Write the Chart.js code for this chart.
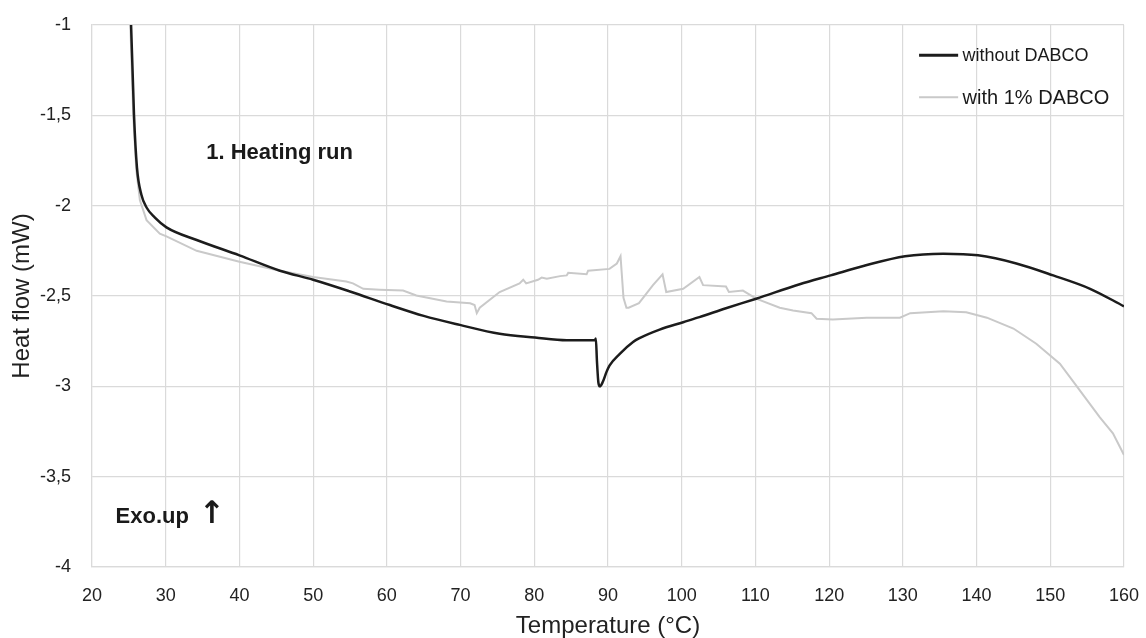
<!DOCTYPE html>
<html>
<head>
<meta charset="utf-8">
<script src="https://cdn.jsdelivr.net/npm/chart.js@4/dist/chart.umd.min.js"></script>
<style>
  html, body { margin: 0; padding: 0; background: #fff; }
  #wrap { width: 1146px; height: 638px; position: relative; }
</style>
</head>
<body>
<div id="wrap"><canvas id="dsc"></canvas></div>
<script>
// DSC heating run, heat flow vs temperature
const tempTicks = [20, 30, 40, 50, 60, 70, 80, 90, 100, 110, 120, 130, 140, 150, 160];
const flowTicks = [-4, -3.5, -3, -2.5, -2, -1.5, -1];

const plainTemp = [25.15, 25.3, 25.7, 26.1, 26.7, 27.4, 28.5, 30.1, 34.2, 40, 45.5, 50, 55, 60.4, 65, 69.9,
    75.3, 80.1, 84.4, 88.2, 88.35, 88.5, 88.7, 88.9, 89.3, 89.8, 90.2, 91.6, 93.4, 94.2, 97, 100.2,
    102.4, 106, 110.1, 116, 120.2, 125, 130.3, 135.5, 140.2, 145.4, 150.4, 155.4, 160];
const plainFlow = [-0.9, -1.0, -1.5, -1.79, -1.94, -2.01, -2.065, -2.12, -2.19, -2.275, -2.36, -2.41, -2.475, -2.55, -2.61, -2.66,
    -2.709, -2.73, -2.745, -2.745, -2.735, -2.86, -2.98, -3.0, -2.975, -2.92, -2.885, -2.82, -2.755, -2.735, -2.686, -2.645,
    -2.617, -2.568, -2.515, -2.435, -2.386, -2.33, -2.28, -2.266, -2.275, -2.32, -2.386, -2.46, -2.557];

const dabcoTemp = [25.1, 25.2, 25.6, 26.0, 26.5, 27.4, 29.2, 30.1, 34.2, 40, 45.5, 50, 54.5, 55.4, 56.8, 59, 62.2, 64,
    68.1, 71.3, 71.9, 72.2, 72.6, 75.3, 78, 78.5, 78.9, 80.5, 81, 81.7, 83.5, 84.4, 84.6, 87.1, 87.3, 90.2, 91.2,
    91.7, 92.1, 92.5, 92.8, 94.2, 96.1, 97.4, 97.9, 100.2, 102.4, 102.9, 106, 106.4, 108.3, 110.1, 113.3, 115.1,
    117.6, 118.3, 120.5, 125.1, 129.6, 131, 135.5, 138.6, 141.4, 145, 148.1, 151.3, 153.6, 156.7, 158.5, 160];
const dabcoFlow = [-0.9, -1.0, -1.5, -1.8, -1.97, -2.08, -2.155, -2.17, -2.25, -2.31, -2.36, -2.395, -2.42, -2.43, -2.46, -2.465, -2.47, -2.497,
    -2.53, -2.54, -2.55, -2.595, -2.565, -2.478, -2.43, -2.41, -2.43, -2.41, -2.398, -2.405, -2.39, -2.386, -2.372, -2.38, -2.36, -2.35, -2.32,
    -2.28, -2.51, -2.565, -2.565, -2.54, -2.44, -2.38, -2.478, -2.46, -2.395, -2.44, -2.447, -2.478, -2.47, -2.515, -2.565, -2.58,
    -2.595, -2.626, -2.63, -2.62, -2.62, -2.595, -2.584, -2.59, -2.62, -2.68, -2.764, -2.875, -3.0, -3.17, -3.26, -3.38];

const seriesNames = ['without DABCO', 'with 1% DABCO'];
const seriesColors = ['#1c1c1c', '#c9c9c9'];

const toPoints = (xs, ys) => xs.map((x, i) => ({ x, y: ys[i] }));
const commaNum = (v) => String(Number(v.toFixed(1))).replace('.', ',');

// legend + text notes, placed in data coordinates
const notes = {
    id: 'notes',
    afterDraw(chart) {
        const { ctx, scales: { x, y } } = chart;
        ctx.save();
        ctx.fillStyle = '#1a1a1a';
        ctx.textBaseline = 'middle';
        ctx.textAlign = 'left';

        ctx.font = 'bold 22px "Liberation Sans", Arial, sans-serif';
        ctx.fillText('1. Heating run', x.getPixelForValue(35.5), y.getPixelForValue(-1.709));
        ctx.fillText('Exo.up', x.getPixelForValue(23.2), y.getPixelForValue(-3.724));
        ctx.font = 'bold 31px "DejaVu Sans", sans-serif';
        ctx.fillText('\u2191', x.getPixelForValue(34.5), y.getPixelForValue(-3.712));

        const rows = [
            { y: -1.168, size: 18, width: 3 },
            { y: -1.40, size: 20, width: 2 },
        ];
        rows.forEach((r, i) => {
            const py = y.getPixelForValue(r.y);
            ctx.strokeStyle = seriesColors[i];
            ctx.lineWidth = r.width;
            ctx.beginPath();
            ctx.moveTo(x.getPixelForValue(132.2), py);
            ctx.lineTo(x.getPixelForValue(137.5), py);
            ctx.stroke();
            ctx.fillStyle = '#1a1a1a';
            ctx.font = r.size + 'px "Liberation Sans", Arial, sans-serif';
            ctx.fillText(seriesNames[i], x.getPixelForValue(138.1), py + 1);
        });
        ctx.restore();
    },
};

const gridColor = '#dadada';
const tickFont = { family: '"Liberation Sans", Arial, sans-serif', size: 18 };
const titleFont = { family: '"Liberation Sans", Arial, sans-serif', size: 24, lineHeight: 1 };

new Chart(document.getElementById('dsc'), {
    type: 'line',
    data: {
        datasets: [
            {
                label: seriesNames[0],
                data: toPoints(plainTemp, plainFlow),
                borderColor: seriesColors[0],
                borderWidth: 2.5,
                pointRadius: 0,
                cubicInterpolationMode: 'monotone',
            },
            {
                label: seriesNames[1],
                data: toPoints(dabcoTemp, dabcoFlow),
                borderColor: seriesColors[1],
                borderWidth: 2,
                pointRadius: 0,
                tension: 0,
            },
        ],
    },
    options: {
        responsive: true,
        maintainAspectRatio: false,
        animation: false,
        layout: { padding: { top: 25, right: 22, left: 0, bottom: 0 } },
        plugins: { legend: { display: false }, tooltip: { enabled: false } },
        scales: {
            x: {
                type: 'linear',
                min: tempTicks[0],
                max: tempTicks[tempTicks.length - 1],
                afterBuildTicks: (s) => { s.ticks = tempTicks.map((v) => ({ value: v })); },
                afterFit: (s) => { s.height = 71; s.paddingLeft = 0; s.paddingRight = 0; },
                grid: { color: gridColor, lineWidth: 1.2, drawTicks: false },
                border: { color: gridColor, width: 1.2 },
                ticks: { color: '#222', font: tickFont, padding: 18, maxRotation: 0 },
                title: { display: true, text: 'Temperature (°C)', color: '#222', font: titleFont, padding: { top: 0, bottom: 0 } },
            },
            y: {
                min: flowTicks[0],
                max: flowTicks[flowTicks.length - 1],
                afterBuildTicks: (s) => { s.ticks = flowTicks.map((v) => ({ value: v })); },
                afterFit: (s) => { s.width = 92; s.paddingTop = 0; s.paddingBottom = 0; },
                grid: { color: gridColor, lineWidth: 1.2, drawTicks: false },
                border: { color: gridColor, width: 1.2 },
                ticks: { color: '#222', font: tickFont, padding: 21, callback: (v) => commaNum(v) },
                title: { display: true, text: 'Heat flow (mW)', color: '#222', font: { ...titleFont, lineHeight: 1.2 }, padding: { top: 8, bottom: 0 } },
            },
        },
    },
    plugins: [notes],
});
</script>
</body>
</html>
